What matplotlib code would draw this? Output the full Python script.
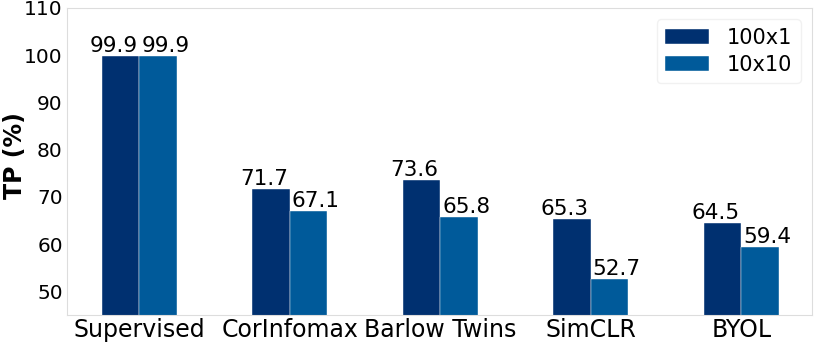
import matplotlib

matplotlib.use("Agg")
import matplotlib.pyplot as plt  # noqa: E402
import numpy as np  # noqa: E402

methods = ["Supervised", "CorInfomax", "Barlow Twins", "SimCLR", "BYOL"]
tp_100x1 = [99.9, 71.7, 73.6, 65.3, 64.5]
tp_10x10 = [99.9, 67.1, 65.8, 52.7, 59.4]
series_names = ["100x1", "10x10"]
colors = ["#003070", "#005a9a"]

fig, ax = plt.subplots(figsize=(8.14, 3.44), dpi=100)
x = np.arange(len(methods))
w = 0.25
for i, (vals, name) in enumerate(zip([tp_100x1, tp_10x10], series_names)):
    pos = x + (i - 0.5) * w
    ax.bar(pos, vals, w, color=colors[i], label=name,
           edgecolor="white", linewidth=0.3)
    # value labels, nudged outward a little
    for px, v in zip(pos + (i - 0.5) * 0.095, vals):
        ax.text(px, v, f"{v:.1f}", ha="center", va="bottom", fontsize=15.5)

ax.set_xticks(x)
ax.set_xticklabels(methods, fontsize=17)
ax.set_yticks(np.arange(50, 111, 10))
ax.tick_params(axis="y", labelsize=14.5, pad=3)
ax.tick_params(axis="x", pad=2)
ax.tick_params(length=0)
ax.set_ylim(45, 110)
ax.set_xlim(-0.48, 4.47)
ax.set_ylabel("TP (%)", fontsize=17, fontweight="bold")
ax.yaxis.set_label_coords(-0.054, 0.52)
for s in ax.spines.values():
    s.set_color("#dddddd")
leg = ax.legend(loc="upper right", fontsize=15, handlelength=2.1, handletextpad=0.85,
                labelspacing=0.35, borderaxespad=0.55)
leg.get_frame().set_edgecolor("#eeeeee")
fig.subplots_adjust(left=0.0823, right=0.9975, top=0.977, bottom=0.084)
fig.savefig("out.png", dpi=100)
plt.close(fig)
